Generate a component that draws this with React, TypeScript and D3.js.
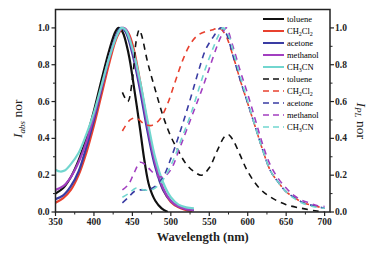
import React from "react";
import * as d3 from "d3";

type Pt = [number, number];

// Absorption (solid)
const absToluene: Pt[] = [[350,0.10],[360,0.13],[370,0.19],[380,0.28],[390,0.40],[400,0.55],[410,0.72],[420,0.88],[428,0.98],[432,1.0],[437,0.98],[445,0.86],[452,0.68],[460,0.45],[466,0.27],[472,0.14],[480,0.06],[488,0.02],[496,0.0]];
const absCH2Cl2: Pt[] = [[350,0.05],[360,0.075],[370,0.12],[380,0.20],[390,0.32],[400,0.47],[410,0.64],[420,0.81],[430,0.95],[438,1.0],[445,0.97],[452,0.88],[460,0.71],[470,0.47],[480,0.26],[490,0.12],[500,0.055],[510,0.025],[520,0.01],[528,0.005]];
const absAcetone: Pt[] = [[350,0.07],[360,0.09],[370,0.14],[380,0.22],[390,0.35],[400,0.50],[410,0.67],[420,0.84],[430,0.97],[435,1.0],[441,0.98],[450,0.86],[460,0.66],[470,0.43],[480,0.24],[490,0.12],[500,0.06],[510,0.03],[520,0.015],[530,0.01]];
const absMethanol: Pt[] = [[350,0.12],[360,0.14],[370,0.19],[380,0.27],[390,0.38],[400,0.52],[410,0.68],[420,0.84],[430,0.96],[437,1.0],[442,0.99],[450,0.88],[460,0.69],[470,0.46],[480,0.26],[490,0.13],[500,0.06],[510,0.03],[520,0.015],[530,0.01]];
const absCH3CN: Pt[] = [[350,0.23],[356,0.22],[362,0.225],[370,0.26],[380,0.32],[390,0.42],[400,0.54],[410,0.69],[420,0.84],[430,0.96],[436,1.0],[441,0.99],[450,0.89],[460,0.71],[470,0.49],[480,0.29],[490,0.16],[500,0.08],[510,0.04],[520,0.025],[530,0.02]];

// Photoluminescence (dashed)
const plToluene: Pt[] = [[437,0.65],[444,0.60],[450,0.72],[455,0.93],[459,0.99],[462,0.96],[470,0.81],[480,0.66],[490,0.52],[500,0.41],[510,0.33],[520,0.26],[530,0.22],[540,0.20],[550,0.24],[560,0.33],[570,0.41],[575,0.42],[581,0.39],[590,0.31],[600,0.22],[615,0.13],[630,0.08],[650,0.04],[670,0.02],[690,0.005],[700,0.0]];
const plCH2Cl2: Pt[] = [[437,0.44],[447,0.50],[455,0.51],[465,0.48],[475,0.47],[485,0.50],[495,0.58],[505,0.70],[515,0.82],[525,0.91],[535,0.96],[545,0.98],[555,0.99],[562,1.0],[570,0.97],[580,0.86],[590,0.72],[600,0.59],[610,0.46],[620,0.33],[630,0.22],[640,0.16],[650,0.11],[660,0.08],[670,0.055],[680,0.04],[690,0.03],[700,0.02]];
const plAcetone: Pt[] = [[437,0.05],[445,0.08],[452,0.11],[460,0.12],[470,0.12],[480,0.14],[490,0.19],[500,0.29],[510,0.41],[520,0.54],[530,0.68],[537,0.78],[545,0.88],[555,0.95],[565,1.0],[572,0.97],[580,0.86],[590,0.72],[600,0.59],[610,0.46],[620,0.33],[630,0.22],[640,0.16],[650,0.11],[660,0.08],[670,0.055],[680,0.04],[690,0.03],[700,0.02]];
const plMethanol: Pt[] = [[437,0.12],[445,0.15],[452,0.21],[460,0.27],[466,0.26],[473,0.23],[481,0.20],[490,0.19],[500,0.23],[510,0.33],[520,0.44],[530,0.55],[540,0.66],[550,0.78],[560,0.90],[566,0.96],[572,1.0],[580,0.91],[590,0.77],[600,0.64],[610,0.50],[620,0.36],[630,0.25],[640,0.18],[650,0.13],[660,0.09],[670,0.065],[680,0.05],[690,0.035],[700,0.03]];
const plCH3CN: Pt[] = [[437,0.08],[445,0.10],[455,0.13],[465,0.12],[475,0.12],[485,0.15],[495,0.21],[505,0.30],[515,0.41],[525,0.52],[535,0.65],[545,0.78],[555,0.89],[562,0.96],[568,1.0],[575,0.96],[582,0.86],[590,0.74],[600,0.60],[610,0.46],[620,0.33],[630,0.22],[640,0.16],[650,0.11],[660,0.075],[670,0.05],[680,0.035],[690,0.025],[700,0.02]];

const legendNames = ["toluene", "CH2Cl2", "acetone", "methanol", "CH3CN"];
const colors = ["#111111", "#e8412f", "#3a3ca3", "#a23fc0", "#72d6cf"];
const xTicks = [350, 400, 450, 500, 550, 600, 650, 700];
const yTicks = [0, 0.2, 0.4, 0.6, 0.8, 1.0];

const W = 374, H = 253;
const L = 55.5, R = 330, T = 9.5, B = 212;
const FONT = "'Liberation Serif', 'DejaVu Serif', 'Times New Roman', serif";

const absSeries = [absToluene, absCH2Cl2, absAcetone, absMethanol, absCH3CN];
const plSeries = [plToluene, plCH2Cl2, plAcetone, plMethanol, plCH3CN];

function LegendLabel({ name, x, y }: { name: string; x: number; y: number }) {
  if (name === "CH2Cl2") {
    return (
      <text x={x} y={y} fontSize={8.5} style={{ fontFamily: FONT }}>
        CH<tspan dy={2} fontSize={6}>2</tspan><tspan dy={-2}>Cl</tspan><tspan dy={2} fontSize={6}>2</tspan>
      </text>
    );
  }
  if (name === "CH3CN") {
    return (
      <text x={x} y={y} fontSize={8.5} style={{ fontFamily: FONT }}>
        CH<tspan dy={2} fontSize={6}>3</tspan><tspan dy={-2}>CN</tspan>
      </text>
    );
  }
  return <text x={x} y={y} fontSize={8.5} style={{ fontFamily: FONT }}>{name}</text>;
}

export default function App() {
  const x = d3.scaleLinear().domain([350, 707]).range([L, R]);
  const y = d3.scaleLinear().domain([0, 1.1]).range([B, T]);
  const line = d3.line<Pt>().x(d => x(d[0])).y(d => y(d[1])).curve(d3.curveCatmullRom.alpha(0.5));

  const minorX = d3.range(375, 707, 50);
  const minorY = [0.1, 0.3, 0.5, 0.7, 0.9];
  const ts = { fontFamily: FONT };

  return (
    <svg width={W} height={H} style={{ position: "absolute", left: 0, top: 0, background: "#fff", fontFamily: FONT }}>
      <rect width={W} height={H} fill="#fff" />
      <defs>
        <clipPath id="plot"><rect x={L} y={T} width={R - L} height={B - T} /></clipPath>
      </defs>
      <g clipPath="url(#plot)">
        {absSeries.map((s, i) => (
          <path key={"a" + i} d={line(s) || ""} fill="none" stroke={colors[i]} strokeWidth={2.2} />
        ))}
        {plSeries.map((s, i) => (
          <path key={"p" + i} d={line(s) || ""} fill="none" stroke={colors[i]} strokeWidth={1.6} strokeDasharray="6,5" />
        ))}
      </g>
      <rect x={L} y={T} width={R - L} height={B - T} fill="none" stroke="#222" strokeWidth={1.5} />
      {xTicks.map(t => (
        <g key={"xt" + t}>
          <line x1={x(t)} x2={x(t)} y1={B} y2={B + 4} stroke="#222" strokeWidth={1.2} />
          <text x={x(t)} y={B + 13} textAnchor="middle" fontSize={9.5} fontWeight="bold" fill="#222" style={ts}>{t}</text>
        </g>
      ))}
      {minorX.map(t => (
        <line key={"xm" + t} x1={x(t)} x2={x(t)} y1={B} y2={B + 2.5} stroke="#222" strokeWidth={1} />
      ))}
      {yTicks.map(t => (
        <g key={"yt" + t}>
          <line x1={L - 4} x2={L} y1={y(t)} y2={y(t)} stroke="#222" strokeWidth={1.2} />
          <line x1={R} x2={R + 4} y1={y(t)} y2={y(t)} stroke="#222" strokeWidth={1.2} />
          <text x={L - 6} y={y(t) + 3} textAnchor="end" fontSize={9.5} fontWeight="bold" fill="#222" style={ts}>{t.toFixed(1)}</text>
          <text x={R + 5} y={y(t) + 3} textAnchor="start" fontSize={9.5} fontWeight="bold" fill="#222" style={ts}>{t.toFixed(1)}</text>
        </g>
      ))}
      {minorY.map(t => (
        <g key={"ym" + t}>
          <line x1={L - 2.5} x2={L} y1={y(t)} y2={y(t)} stroke="#222" strokeWidth={1} />
          <line x1={R} x2={R + 2.5} y1={y(t)} y2={y(t)} stroke="#222" strokeWidth={1} />
        </g>
      ))}
      <text x={(L + R) / 2 + 10} y={241} textAnchor="middle" fontSize={12.5} fontWeight="bold" fill="#222" style={ts}>Wavelength (nm)</text>
      <text transform={`translate(22,${(T + B) / 2 + 8}) rotate(-90)`} textAnchor="middle" fontSize={13.5} fill="#222" style={ts}>
        <tspan fontStyle="italic">I</tspan><tspan dy={2.5} fontSize={9} fontStyle="italic">abs</tspan><tspan dy={-2.5}> nor</tspan>
      </text>
      <text transform={`translate(357,${(T + B) / 2 + 10}) rotate(90)`} textAnchor="middle" fontSize={13.5} fill="#222" style={ts}>
        <tspan fontStyle="italic">I</tspan><tspan dy={2.5} fontSize={9} fontStyle="italic">PL</tspan><tspan dy={-2.5}> nor</tspan>
      </text>
      {[0, 1].map(block =>
        legendNames.map((n, i) => {
          const yy = 19 + (block * 5 + i) * 12;
          return (
            <g key={"lg" + block + i}>
              <line x1={263} x2={284} y1={yy} y2={yy} stroke={colors[i]} strokeWidth={block === 0 ? 2 : 1.6}
                strokeDasharray={block === 0 ? undefined : "6,4"} />
              <LegendLabel name={n} x={287} y={yy + 3} />
            </g>
          );
        })
      )}
    </svg>
  );
}
